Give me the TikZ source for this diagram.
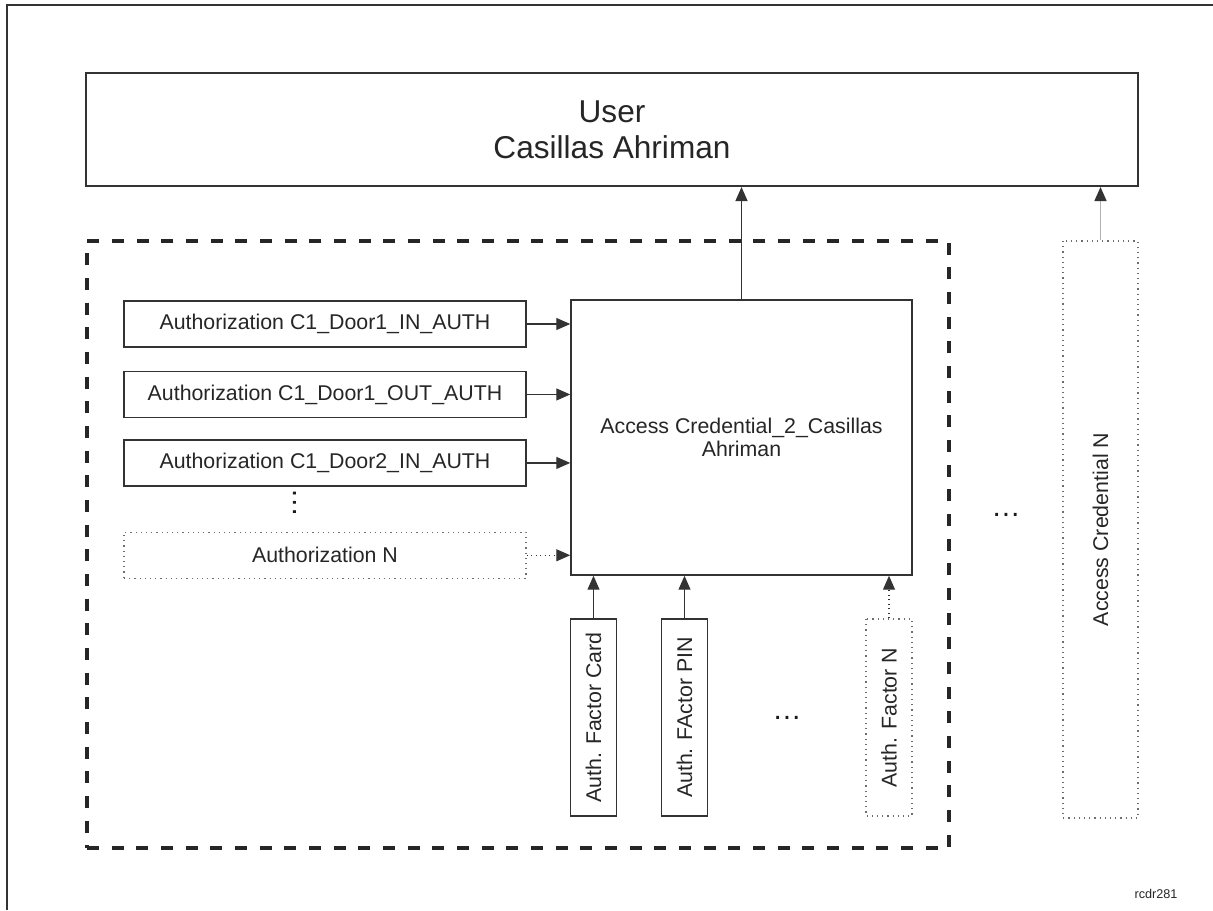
\documentclass[tikz,border=0pt]{standalone}
\usepackage{fontspec}
\setmainfont{Liberation Sans}
\usetikzlibrary{arrows.meta,positioning}
\definecolor{lines}{HTML}{333333}
\definecolor{dots}{HTML}{6E6E6E}

\begin{document}
\begin{tikzpicture}[x=0.75pt,y=-0.75pt,>={Triangle[length=10.5pt,width=9pt]},
                    box/.style={draw=lines,line width=1.1pt,fill=white,inner sep=0pt,
                                font=\fontsize{16}{17}\selectfont,text=black!85},
                    dotbox/.style={box,draw=dots,line width=0.9pt,dash pattern=on 0.9pt off 3pt},
                    authbox/.style={minimum width=301.5pt,minimum height=34.5pt},
                    factor/.style={rotate=90,minimum width=147.75pt,minimum height=34.5pt},
                    link/.style={->,draw=lines,line width=0.9pt},
                    dotlink/.style={link,dash pattern=on 0.9pt off 2.5pt},
                    more/.style={font=\fontsize{22}{22}\selectfont,inner sep=0pt,anchor=base,text=black!90}]

  \useasboundingbox (0,0) rectangle (1213,910);
  \draw[lines,line width=1.5pt] (7,910) |- (1213,5);

  % user and the credential group
  \node[box,line width=1.5pt,minimum width=789pt,minimum height=84.75pt,align=center,
        font=\fontsize{23.7}{27}\selectfont] (user) at (612,129.5) {User\\Casillas Ahriman};
  \node[draw=black!85,line width=2.3pt,dash pattern=on 9pt off 9.5pt,
        minimum width=646.5pt,minimum height=455.25pt,inner sep=0pt] (grp) at (518,544.5) {};

  \node[box,minimum width=255.75pt,minimum height=206.25pt,align=center] (cred) at (741.5,437.5)
       {Access Credential\_2\_Casillas\\Ahriman};

  % authorizations
  \node[box,authbox]                       (a1) at (325,324) {Authorization C1\_Door1\_IN\_AUTH};
  \node[box,authbox,below=17.25pt of a1]   (a2) {Authorization C1\_Door1\_OUT\_AUTH};
  \node[box,authbox,below=15.75pt of a2]   (a3) {Authorization C1\_Door2\_IN\_AUTH};
  \node[dotbox,authbox,below=33.75pt of a3] (an) {Authorization N};
  \node[more,rotate=90] (vdots) at (296.5,503) {…};

  % authentication factors
  \node[box,factor]    (f1) at (593.5,717.5) {Auth. Factor Card};
  \node[box,factor]    (f2) at (684.5,717.5) {Auth. FActor PIN};
  \node[dotbox,factor] (fn) at (889,717.5)   {Auth. Factor N};
  \node[more] (hdots) at (787,719.5) {…};

  % other credentials
  \node[dotbox,rotate=90,minimum width=432.75pt,minimum height=56.25pt] (credn) at (1100.5,529.5)
       {Access Credential N};
  \node[more] (cdots) at (1006,516.5) {…};

  \node[font=\fontsize{9.5}{10}\selectfont,text=black!85] (tag) at (1156,894) {rcdr281};

  \foreach \a in {a1,a2,a3}
    \draw[link] (\a.east) -- (\a.east -| cred.west);
  \draw[dotlink] (an.east) -- (an.east -| cred.west);
  \draw[link] (f1.east) -- (f1.east |- cred.south);
  \draw[link] (f2.east) -- (f2.east |- cred.south);
  \draw[dotlink] (fn.east) -- (fn.east |- cred.south);
  \draw[link] (cred.north) -- (cred.north |- user.south);
  \draw[->,draw=black!30,line width=1.1pt,>={Triangle[length=10.5pt,width=9pt,color=lines]}]
       (credn.east) -- (credn.east |- user.south);
\end{tikzpicture}
\end{document}
